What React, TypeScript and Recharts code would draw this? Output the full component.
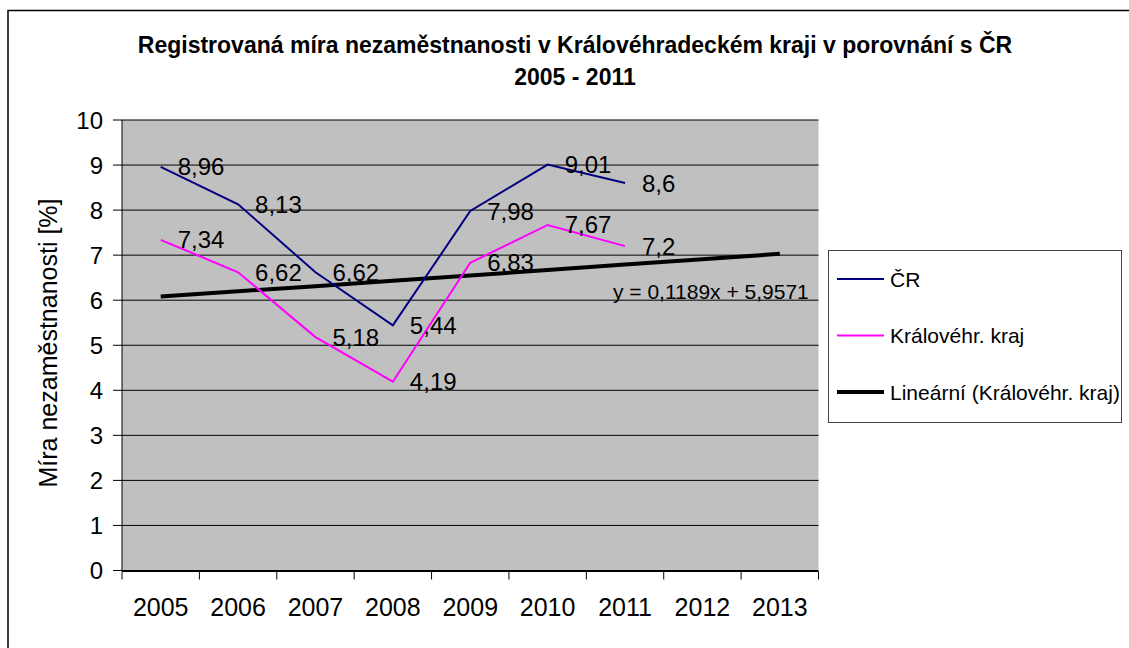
import { LineChart, Line, XAxis, YAxis, CartesianGrid } from "recharts";

/* ─── Data ──────────────────────────────────────────────────── */

const years = ["2005", "2006", "2007", "2008", "2009", "2010", "2011", "2012", "2013"];
const crValues = [8.96, 8.13, 6.62, 5.44, 7.98, 9.01, 8.6, null, null];
const krajValues = [7.34, 6.62, 5.18, 4.19, 6.83, 7.67, 7.2, null, null];
// trend line
const trendValues = [6.08, 6.2, 6.31, 6.43, 6.55, 6.67, 6.79, 6.91, 7.03];
const yTicks = [0, 1, 2, 3, 4, 5, 6, 7, 8, 9, 10];

const seriesNames = ["ČR", "Královéhr. kraj", "Lineární (Královéhr. kraj)"];
const seriesColors = ["#000080", "#FF00FF", "#000000"];
const seriesWidths = [2, 2, 4];

const title1 = "Registrovaná míra nezaměstnanosti v Královéhradeckém kraji v porovnání s ČR";
const title2 = "2005 - 2011";
const yLabel = "Míra nezaměstnanosti [%]";
const equation = "y = 0,1189x + 5,9571";

const FONT = "'Liberation Sans', Arial, sans-serif";

const data = years.map((y, i) => ({
  x: i + 1,
  year: y,
  cr: crValues[i],
  kraj: krajValues[i],
  trend: trendValues[i],
}));

const edgeTicks = years.map((_, i) => i + 0.5).concat([years.length + 0.5]);
const centerTicks = years.map((_, i) => i + 1);

/* ─── Helpers ───────────────────────────────────────────────── */

function renderLabel(props: any) {
  const { x, y, value, index } = props;
  if (value == null || x == null || y == null) return null;
  return (
    <text
      key={index}
      x={x + 17}
      y={y}
      dominantBaseline="central"
      fontSize={24}
      fontFamily={FONT}
      fill="#000"
    >
      {String(value).replace(".", ",")}
    </text>
  );
}

/* ─── Component ─────────────────────────────────────────────── */

export default function App() {
  return (
    <div style={{ position: "absolute", left: 0, top: 0, width: 1129, height: 648, background: "#fff" }}>
      <LineChart
        width={1129}
        height={648}
        data={data}
        margin={{ top: 120, right: 310.5, bottom: 75.5, left: 42 }}
      >
        <CartesianGrid
          vertical={false}
          stroke="#000"
          fill="#C0C0C0"
          fillOpacity={1}
        />
        <XAxis
          xAxisId="edges"
          dataKey="x"
          type="number"
          domain={[0.5, years.length + 0.5]}
          ticks={edgeTicks}
          tickFormatter={() => ""}
          tickSize={8}
          height={1}
          axisLine={{ stroke: "#000" }}
          tickLine={{ stroke: "#000" }}
          interval={0}
        />
        <XAxis
          dataKey="x"
          type="number"
          domain={[0.5, years.length + 0.5]}
          ticks={centerTicks}
          tickFormatter={(v: number) => years[v - 1]}
          tickSize={0}
          tickMargin={28}
          height={1}
          axisLine={false}
          tickLine={false}
          interval={0}
          tick={{ fill: "#000", fontSize: 25, fontFamily: FONT }}
        />
        <YAxis
          type="number"
          domain={[0, 10]}
          ticks={yTicks}
          width={80}
          tickSize={9}
          tickMargin={10}
          interval={0}
          axisLine={{ stroke: "#000" }}
          tickLine={{ stroke: "#000" }}
          tick={{ fill: "#000", fontSize: 24, fontFamily: FONT }}
        />
        <Line
          dataKey="trend"
          stroke={seriesColors[2]}
          strokeWidth={seriesWidths[2]}
          dot={false}
          isAnimationActive={false}
        />
        <Line
          dataKey="cr"
          stroke={seriesColors[0]}
          strokeWidth={seriesWidths[0]}
          dot={false}
          label={renderLabel}
          isAnimationActive={false}
        />
        <Line
          dataKey="kraj"
          stroke={seriesColors[1]}
          strokeWidth={seriesWidths[1]}
          dot={false}
          label={renderLabel}
          isAnimationActive={false}
        />
      </LineChart>

      {/* ── Overlay: border, title, axis title, equation, legend ── */}
      <svg
        width={1129}
        height={648}
        style={{ position: "absolute", left: 0, top: 0, pointerEvents: "none" }}
        fontFamily={FONT}
      >
        <rect x={8} y={10.5} width={1140} height={660} fill="none" stroke="#000" strokeWidth={1.5} />
        <text x={575} y={53} textAnchor="middle" fontSize={23} fontWeight="bold">
          {title1}
        </text>
        <text x={575} y={85} textAnchor="middle" fontSize={23} fontWeight="bold">
          {title2}
        </text>
        <text
          transform="translate(57, 343) rotate(-90)"
          textAnchor="middle"
          fontSize={25}
        >
          {yLabel}
        </text>
        <text x={613} y={299} fontSize={21}>
          {equation}
        </text>

        <rect x={828.5} y={250.5} width={293} height={172} fill="#fff" stroke="#444" strokeWidth={1} />
        {seriesNames.map((name, i) => {
          const cy = 279 + i * 56.5;
          return (
            <g key={name}>
              <line x1={837} x2={884} y1={cy} y2={cy} stroke={seriesColors[i]} strokeWidth={seriesWidths[i]} />
              <text x={890} y={cy} dominantBaseline="central" fontSize={21}>
                {name}
              </text>
            </g>
          );
        })}
      </svg>
    </div>
  );
}
